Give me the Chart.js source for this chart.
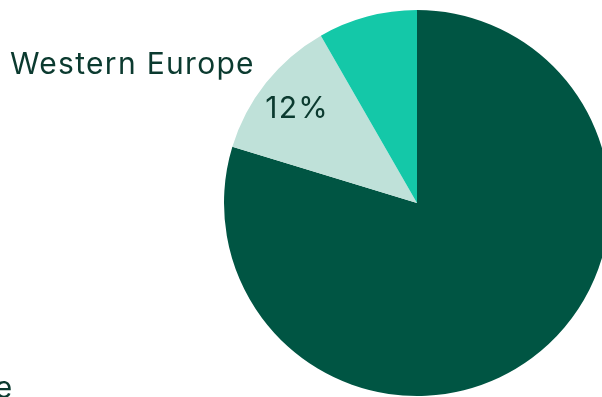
<!DOCTYPE html>
<html>
<head>
<meta charset="utf-8">
<script src="https://cdn.jsdelivr.net/npm/chart.js@4/dist/chart.umd.min.js"></script>
<style>
    html, body { margin: 0; padding: 0; background: #ffffff; }
    #wrap { width: 602px; height: 397px; overflow: hidden; position: relative; }
    #box { width: 834px; height: 397px; position: absolute; left: 0; top: 0; }
</style>
</head>
<body>
<div id="wrap"><div id="box"><canvas id="chart"></canvas></div></div>
<script>
const regions = ['Eastern Europe', 'Western Europe', 'Other'];
const shares = [79.7, 12, 8.3];
const colors = ['#005543', '#bfe1d9', '#14c8a8'];
const textColor = '#0b3a2f';

// labels drawn next to the pie, anchored on the arc geometry
const pieLabels = {
    id: 'pieLabels',
    afterDatasetsDraw(chart) {
        const ctx = chart.ctx;
        const arcs = chart.getDatasetMeta(0).data;
        const west = arcs[1];
        const cx = west.x, cy = west.y, r = west.outerRadius;
        const mid = (west.startAngle + west.endAngle) / 2;

        ctx.save();
        ctx.fillStyle = textColor;
        ctx.font = '400 30px Inter, "Noto Sans", sans-serif';
        ctx.letterSpacing = '1.3px';
        ctx.textBaseline = 'alphabetic';

        ctx.textAlign = 'center';
        ctx.fillText(Math.round(shares[1]) + '%', cx + Math.cos(mid) * r * 0.8 + 1, cy + Math.sin(mid) * r * 0.8 + 11);

        ctx.textAlign = 'right';
        ctx.fillText(regions[1], cx - r * 0.84, cy - r * 0.67);

        ctx.fillText(regions[0], cx - r * 2.09, cy + r * 1.01);
        ctx.restore();
    }
};

new Chart(document.getElementById('chart').getContext('2d'), {
    type: 'pie',
    data: {
        labels: regions,
        datasets: [{
            data: shares,
            backgroundColor: colors,
            borderWidth: 0
        }]
    },
    options: {
        responsive: true,
        maintainAspectRatio: false,
        animation: false,
        layout: { padding: { top: 10, bottom: 1 } },
        plugins: {
            legend: { display: false },
            tooltip: { enabled: false }
        }
    },
    plugins: [pieLabels]
});
</script>
</body>
</html>
